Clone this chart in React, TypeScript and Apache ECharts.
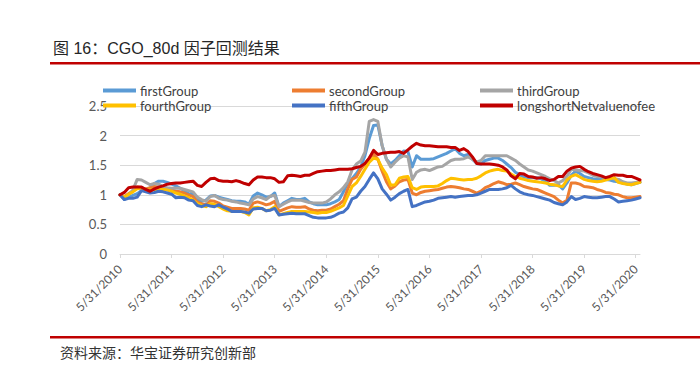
import React, { useEffect, useRef } from "react";
import * as echarts from "echarts";

const seriesNames = ["firstGroup", "secondGroup", "thirdGroup", "fourthGroup", "fifthGroup", "longshortNetvaluenofee"];
const seriesColors = ["#5B9BD5", "#ED7D31", "#A5A5A5", "#FFC000", "#4472C4", "#C00000"];

const firstGroup = [
  1.00,0.92,0.96,0.99,1.02,1.07,1.09,1.11,1.19,1.23,
  1.23,1.21,1.18,1.15,1.11,1.07,1.01,1.03,0.93,0.89,
  0.91,0.98,0.99,0.96,0.94,0.92,0.90,0.89,0.89,0.88,
  0.84,0.98,1.03,1.00,0.96,0.97,1.03,0.80,0.86,0.90,
  0.94,0.92,0.92,0.94,0.88,0.85,0.83,0.83,0.83,0.85,
  0.88,0.92,1.05,1.20,1.27,1.36,1.47,1.66,1.95,2.17,
  2.18,1.83,1.60,1.52,1.58,1.66,1.74,1.73,1.47,1.66,
  1.60,1.60,1.60,1.61,1.64,1.67,1.70,1.74,1.78,1.70,
  1.66,1.68,1.60,1.53,1.52,1.58,1.60,1.62,1.62,1.58,
  1.52,1.46,1.38,1.34,1.30,1.29,1.29,1.29,1.27,1.23,
  1.16,1.16,1.17,1.10,1.20,1.33,1.40,1.36,1.31,1.29,
  1.27,1.26,1.26,1.26,1.25,1.23,1.22,1.20,1.18,1.17,
  1.19,1.21,
];
const secondGroup = [
  1.00,0.97,1.02,1.06,1.13,1.12,1.10,1.12,1.14,1.13,
  1.11,1.10,1.08,1.06,1.05,1.03,1.00,0.97,0.88,0.85,
  0.83,0.90,0.89,0.86,0.81,0.79,0.77,0.77,0.77,0.76,
  0.74,0.86,0.88,0.86,0.83,0.85,0.89,0.72,0.75,0.78,
  0.80,0.79,0.79,0.80,0.76,0.74,0.73,0.74,0.74,0.76,
  0.80,0.84,0.90,1.10,1.26,1.30,1.43,1.52,1.62,1.69,
  1.60,1.40,1.22,1.10,1.15,1.22,1.25,1.26,1.03,1.00,
  1.04,1.06,1.07,1.08,1.09,1.11,1.13,1.14,1.13,1.12,
  1.10,1.09,1.06,1.03,1.06,1.12,1.15,1.19,1.22,1.20,
  1.17,1.18,1.20,1.17,1.14,1.12,1.10,1.09,1.06,1.03,
  1.00,0.97,0.91,0.86,0.91,1.20,1.20,1.18,1.14,1.13,
  1.12,1.09,1.07,1.04,1.03,1.01,1.00,0.97,0.95,0.95,
  0.96,0.97,
];
const thirdGroup = [
  1.00,0.96,1.00,1.08,1.26,1.25,1.21,1.17,1.19,1.18,
  1.14,1.12,1.11,1.11,1.11,1.09,1.07,1.05,0.96,0.92,
  0.89,0.97,0.99,0.94,0.92,0.91,0.89,0.88,0.86,0.85,
  0.83,0.93,0.97,0.95,0.92,0.98,0.99,0.80,0.84,0.88,
  0.91,0.91,0.91,0.89,0.87,0.86,0.86,0.86,0.88,0.93,
  1.00,1.05,1.12,1.22,1.42,1.52,1.57,1.72,2.24,2.27,
  2.24,1.83,1.60,1.47,1.55,1.62,1.66,1.64,1.26,1.38,
  1.42,1.43,1.41,1.44,1.47,1.48,1.53,1.58,1.60,1.60,
  1.61,1.64,1.60,1.55,1.58,1.66,1.66,1.66,1.66,1.66,
  1.66,1.62,1.58,1.52,1.47,1.42,1.40,1.37,1.34,1.31,
  1.27,1.24,1.20,1.24,1.31,1.43,1.42,1.41,1.40,1.37,
  1.33,1.31,1.30,1.29,1.28,1.27,1.26,1.22,1.20,1.20,
  1.21,1.22,
];
const fourthGroup = [
  1.00,0.96,1.01,1.05,1.10,1.11,1.09,1.08,1.09,1.09,
  1.09,1.08,1.06,1.03,1.01,0.98,0.95,0.91,0.85,0.82,
  0.80,0.85,0.84,0.80,0.76,0.73,0.72,0.72,0.72,0.70,
  0.66,0.78,0.79,0.77,0.73,0.75,0.80,0.66,0.68,0.70,
  0.72,0.72,0.72,0.72,0.71,0.70,0.69,0.70,0.70,0.72,
  0.75,0.78,0.82,0.98,1.14,1.20,1.31,1.43,1.55,1.62,
  1.60,1.45,1.34,1.16,1.17,1.28,1.30,1.31,1.12,1.09,
  1.13,1.14,1.14,1.14,1.15,1.19,1.24,1.28,1.27,1.26,
  1.25,1.26,1.26,1.28,1.32,1.37,1.40,1.42,1.43,1.41,
  1.40,1.35,1.31,1.28,1.26,1.24,1.23,1.22,1.21,1.20,
  1.18,1.17,1.15,1.14,1.25,1.31,1.34,1.30,1.26,1.24,
  1.23,1.22,1.23,1.25,1.27,1.29,1.21,1.19,1.18,1.17,
  1.19,1.21,
];
const fifthGroup = [
  1.00,0.92,0.94,0.94,0.96,1.07,1.05,1.03,1.04,1.06,
  1.05,1.03,1.01,0.95,0.96,0.95,0.91,0.90,0.82,0.80,
  0.83,0.81,0.80,0.83,0.79,0.76,0.72,0.72,0.72,0.71,
  0.69,0.76,0.77,0.77,0.73,0.74,0.77,0.66,0.67,0.68,
  0.69,0.68,0.68,0.68,0.65,0.62,0.61,0.61,0.61,0.62,
  0.65,0.69,0.71,0.78,0.93,0.96,1.06,1.14,1.26,1.37,
  1.27,1.10,1.01,0.91,0.96,1.02,1.06,1.09,0.80,0.82,
  0.85,0.88,0.89,0.91,0.94,0.95,0.96,0.97,0.96,0.97,
  0.98,0.99,0.99,1.00,1.03,1.06,1.09,1.09,1.09,1.10,
  1.12,1.16,1.10,1.05,1.02,1.00,0.99,0.97,0.95,0.93,
  0.91,0.87,0.85,0.83,0.88,0.97,0.92,0.94,0.97,0.96,
  0.95,0.95,0.96,0.97,0.97,0.93,0.88,0.89,0.90,0.91,
  0.93,0.95,
];
const longshortNetvaluenofee = [
  1.00,1.04,1.12,1.13,1.13,1.13,1.09,1.06,1.10,1.13,
  1.15,1.18,1.19,1.20,1.20,1.21,1.22,1.23,1.16,1.14,
  1.21,1.27,1.28,1.24,1.23,1.23,1.22,1.24,1.22,1.19,
  1.17,1.25,1.30,1.30,1.29,1.29,1.27,1.21,1.22,1.32,
  1.33,1.32,1.31,1.33,1.33,1.36,1.39,1.40,1.41,1.41,
  1.42,1.43,1.43,1.43,1.44,1.46,1.48,1.53,1.62,1.75,
  1.68,1.70,1.71,1.72,1.72,1.73,1.70,1.76,1.82,1.87,
  1.84,1.83,1.83,1.82,1.81,1.81,1.81,1.80,1.80,1.75,
  1.78,1.73,1.64,1.53,1.52,1.52,1.52,1.51,1.50,1.47,
  1.42,1.32,1.27,1.36,1.35,1.31,1.30,1.28,1.29,1.27,
  1.24,1.26,1.31,1.31,1.40,1.45,1.47,1.48,1.43,1.39,
  1.36,1.34,1.32,1.29,1.31,1.34,1.33,1.33,1.31,1.31,
  1.28,1.25,
];

const seriesValues = [firstGroup, secondGroup, thirdGroup, fourthGroup, fifthGroup, longshortNetvaluenofee];

// month-end dates from 5/31/2010, one per data point
const startYear = 2010;
const startMonth = 4; // May (0-based)
const categories: string[] = firstGroup.map((_, k) => {
  const m = (startMonth + k) % 12;
  const y = startYear + Math.floor((startMonth + k) / 12);
  const d = new Date(y, m + 1, 0).getDate();
  return `${m + 1}/${d}/${y}`;
});

const titleText = "图 16：CGO_80d 因子回测结果";
const sourceText = "资料来源：华宝证券研究创新部";

const legendPos = [
  { left: 103, top: 84 },
  { left: 292, top: 84 },
  { left: 480, top: 84 },
  { left: 103, top: 99 },
  { left: 292, top: 99 },
  { left: 480, top: 99 },
];
const legendOrder = ["firstGroup", "secondGroup", "thirdGroup", "fourthGroup", "fifthGroup", "longshortNetvaluenofee"];

export default function App() {
  const ref = useRef<HTMLDivElement>(null);
  useEffect(() => {
    document.body.style.margin = "0";
    const chart = echarts.init(ref.current!, null, { renderer: "svg" });
    const font = "Lato, 'Liberation Sans', sans-serif";
    chart.setOption({
      animation: false,
      backgroundColor: "#ffffff",
      grid: { left: 120, right: 60, top: 106, bottom: 119 },
      legend: legendOrder.map((name, i) => ({
        data: [name],
        left: legendPos[i].left,
        top: legendPos[i].top,
        padding: 0,
        icon: "rect",
        itemWidth: 33,
        itemHeight: 4,
        itemGap: 5,
        selectedMode: false,
        textStyle: { fontSize: 13, color: "#404040", fontFamily: font, padding: [0, 0, 0, -1] },
      })),
      xAxis: {
        type: "category",
        data: categories,
        boundaryGap: false,
        axisLine: { lineStyle: { color: "#D9D9D9", width: 1 } },
        axisTick: { show: true, interval: 11, length: 4, lineStyle: { color: "#D9D9D9" } },
        axisLabel: {
          interval: 11,
          rotate: 45,
          fontSize: 12,
          color: "#595959",
          fontFamily: font,
          margin: 13,
        },
        splitLine: { show: false },
      },
      yAxis: {
        type: "value",
        min: 0,
        max: 2.5,
        interval: 0.5,
        axisLine: { show: false },
        axisTick: { show: false },
        axisLabel: { fontSize: 13, color: "#595959", fontFamily: font, margin: 13 },
        splitLine: { lineStyle: { color: "#D9D9D9", width: 1 } },
      },
      series: seriesNames.map((name, i) => ({
        name,
        type: "line",
        data: seriesValues[i],
        showSymbol: false,
        symbol: "none",
        color: seriesColors[i],
        lineStyle: { width: 3, color: seriesColors[i], join: "round", cap: "round" },
        z: 2 + i,
      })),
      graphic: [
        {
          type: "text",
          left: 53,
          top: 40,
          style: { text: titleText, fontSize: 16, fill: "#262626", fontFamily: "'Liberation Sans', 'Noto Sans CJK SC', sans-serif" },
        },
        { type: "rect", shape: { x: 50, y: 62, width: 650, height: 2.5 }, style: { fill: "#C00000" } },
        { type: "rect", shape: { x: 50, y: 336, width: 650, height: 2.5 }, style: { fill: "#C00000" } },
        {
          type: "text",
          left: 60,
          top: 345,
          style: { text: sourceText, fontSize: 14, fill: "#333333", fontFamily: "'Noto Sans CJK SC', sans-serif" },
        },
      ],
    });
    return () => chart.dispose();
  }, []);
  return (
    <div
      ref={ref}
      style={{ position: "fixed", left: 0, top: 0, width: 700, height: 373, background: "#fff" }}
    />
  );
}
